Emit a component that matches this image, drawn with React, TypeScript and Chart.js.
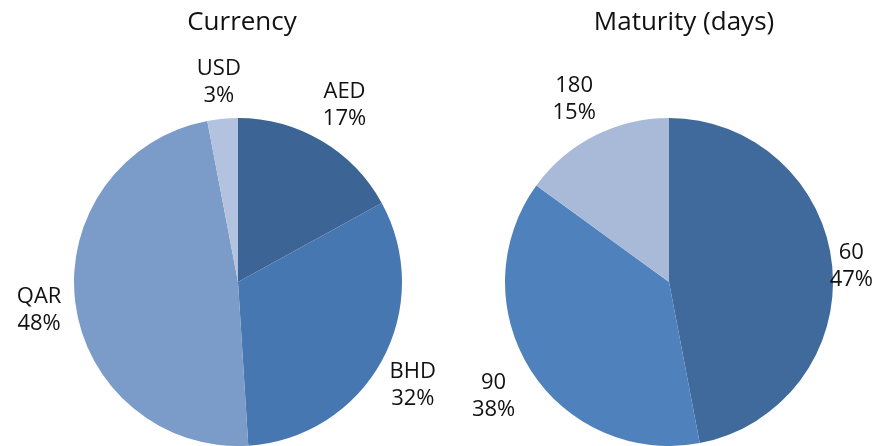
import React, { useEffect, useRef } from "react";
import Chart from "chart.js/auto";

const currencyTitle = "Currency";
const currencyLabels = ["AED", "BHD", "QAR", "USD"];
const currencyValues = [17, 32, 48, 3];
const currencyColors = ["#3C6495", "#4777B0", "#7B9BC8", "#B3C3DF"];

const maturityTitle = "Maturity (days)";
const maturityLabels = ["60", "90", "180"];
const maturityValues = [47, 38, 15];
const maturityColors = ["#3F6A9B", "#4F81BD", "#A9BAD9"];

const FONT = "'Open Sans', 'Noto Sans', sans-serif";

const outLabels = {
  id: "outLabels",
  afterDraw(chart: any, _args: any, opts: any) {
    const ctx = chart.ctx;
    const meta = chart.getDatasetMeta(0);
    const data = chart.data.datasets[0].data as number[];
    const labels = chart.data.labels as string[];
    const total = data.reduce((a, b) => a + b, 0);
    const lineH = 27;
    const gap = 11;
    ctx.save();
    ctx.fillStyle = "#111";
    ctx.textAlign = "center";
    ctx.textBaseline = "middle";
    ctx.font = `22px ${FONT}`;
    meta.data.forEach((arc: any, i: number) => {
      const p = arc.getProps(["x", "y", "startAngle", "endAngle", "outerRadius"], true);
      const mid = (p.startAngle + p.endAngle) / 2;
      const ux = Math.cos(mid);
      const uy = Math.sin(mid);
      const l1 = labels[i];
      const l2 = Math.round((data[i] / total) * 100) + "%";
      const w = Math.max(ctx.measureText(l1).width, ctx.measureText(l2).width);
      const h = lineH * 2;
      const ext = Math.abs(ux) * w / 2 + Math.abs(uy) * h / 2;
      let cx = p.x + ux * (p.outerRadius + gap + ext);
      const cy = p.y + uy * (p.outerRadius + gap + ext) + 3;
      cx = Math.min(Math.max(cx, w / 2 + 2), chart.width - w / 2 - 1);
      ctx.fillText(l1, cx, cy - lineH / 2);
      ctx.fillText(l2, cx, cy + lineH / 2);
    });
    ctx.font = `26px ${FONT}`;
    ctx.textBaseline = "alphabetic";
    ctx.fillText(opts.title, opts.titleX, 30);
    ctx.restore();
  },
};

function PieChart(props: {
  labels: string[];
  values: number[];
  colors: string[];
  title: string;
  titleX: number;
  padding: { left: number; right: number; top: number; bottom: number };
  left: number;
}) {
  const ref = useRef<HTMLCanvasElement | null>(null);
  useEffect(() => {
    if (!ref.current) return;
    const chart = new Chart(ref.current, {
      type: "pie",
      data: {
        labels: props.labels,
        datasets: [
          {
            data: props.values,
            backgroundColor: props.colors,
            borderWidth: 0,
          },
        ],
      },
      options: {
        responsive: false,
        animation: false,
        layout: { padding: props.padding },
        plugins: {
          legend: { display: false },
          tooltip: { enabled: false },
          title: { display: false },
          outLabels: { title: props.title, titleX: props.titleX },
        } as any,
      },
      plugins: [outLabels],
    });
    return () => chart.destroy();
  }, []);
  return (
    <canvas
      ref={ref}
      width={437}
      height={446}
      style={{ position: "absolute", left: props.left, top: 0, width: 437, height: 446 }}
    />
  );
}

export default function App() {
  useEffect(() => {
    document.body.style.margin = "0";
  }, []);
  return (
    <div style={{ position: "relative", width: 874, height: 446, background: "#fff", overflow: "hidden" }}>
      <PieChart
        labels={currencyLabels}
        values={currencyValues}
        colors={currencyColors}
        title={currencyTitle}
        titleX={242}
        padding={{ left: 74, right: 35, top: 118, bottom: 0 }}
        left={0}
      />
      <PieChart
        labels={maturityLabels}
        values={maturityValues}
        colors={maturityColors}
        title={maturityTitle}
        titleX={247}
        padding={{ left: 68, right: 41, top: 118, bottom: 0 }}
        left={437}
      />
    </div>
  );
}
